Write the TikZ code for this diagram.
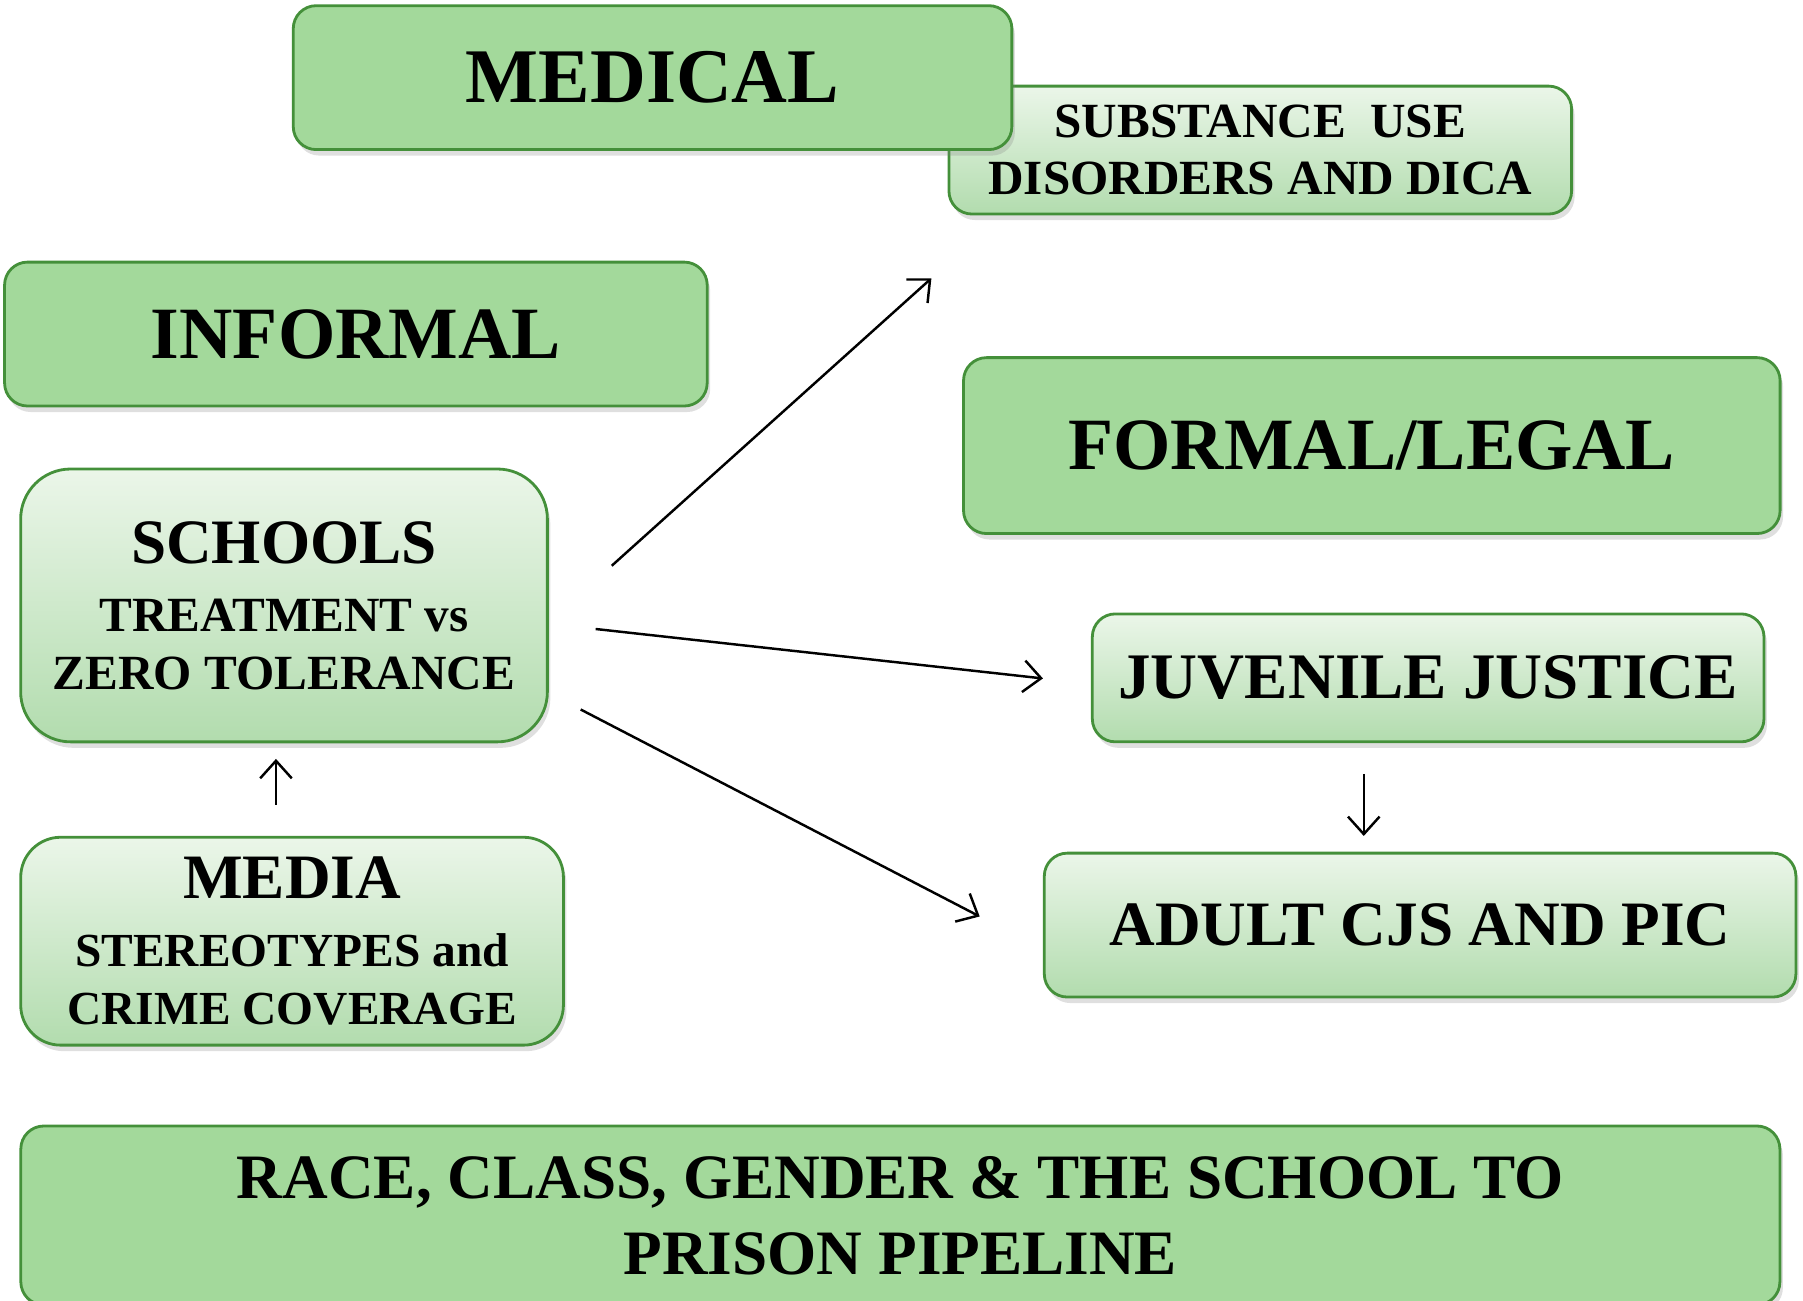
\documentclass[tikz,border=0pt]{standalone}
\usepackage{fontspec}
\setmainfont{Liberation Serif}
\usetikzlibrary{shadows,arrows.meta}
\definecolor{boxgreen}{HTML}{A3D99B}
\definecolor{edgegreen}{HTML}{44903A}
\definecolor{toplight}{HTML}{EBF6E9}
\definecolor{botgreen}{HTML}{B2DCAE}

\tikzset{
  solidbox/.style={draw=edgegreen, line width=0.8pt, fill=boxgreen,
    rounded corners=0.23cm, align=center,
    drop shadow={opacity=0.25, shadow xshift=0.03cm, shadow yshift=-0.06cm}},
  fadebox/.style={draw=edgegreen, line width=0.8pt, top color=toplight,
    bottom color=botgreen, rounded corners=0.23cm, align=center,
    drop shadow={opacity=0.25, shadow xshift=0.03cm, shadow yshift=-0.06cm}},
  link/.style={black, line width=0.7pt, -{Straight Barb[length=5pt,width=9pt]}},
}

\begin{document}
\begin{tikzpicture}[x=0.0115cm, y=-0.0115cm]
\useasboundingbox (0,0) rectangle (1568,1131);

\node[fadebox, font=\bfseries\fontsize{14}{16.4}\selectfont,
  minimum width=6.23cm, minimum height=1.28cm] (substance) at (1096,130.5)
  {SUBSTANCE~ USE\\ DISORDERS AND DICA};
\node[solidbox, font=\bfseries\fontsize{22}{24}\selectfont,
  minimum width=7.19cm, minimum height=1.44cm] (medical) at (567.5,67.5) {MEDICAL};
\node[solidbox, font=\bfseries\fontsize{21}{24}\selectfont,
  minimum width=7.03cm, minimum height=1.44cm] (informal) at (309.5,290.5) {INFORMAL};
\node[solidbox, font=\bfseries\fontsize{21}{24}\selectfont,
  minimum width=8.17cm, minimum height=1.76cm] (formal) at (1193,387.5) {FORMAL/LEGAL};
\node[fadebox, rounded corners=0.5cm, font=\bfseries\fontsize{14}{16.4}\selectfont,
  minimum width=5.27cm, minimum height=2.73cm] (schools) at (247,526.5)
  {{\fontsize{18}{18}\selectfont SCHOOLS}\\[3pt] TREATMENT vs\\ ZERO TOLERANCE};
\node[fadebox, font=\bfseries\fontsize{18.5}{20}\selectfont,
  minimum width=6.72cm, minimum height=1.28cm] (juvenile) at (1242,589.5) {JUVENILE JUSTICE};
\node[fadebox, font=\bfseries\fontsize{18}{20}\selectfont,
  minimum width=7.52cm, minimum height=1.44cm] (adult) at (1235,804.5) {ADULT CJS AND PIC};
\node[fadebox, rounded corners=0.4cm, font=\bfseries\fontsize{13.5}{16.4}\selectfont,
  minimum width=5.43cm, minimum height=2.08cm] (media) at (254,818.5)
  {{\fontsize{18}{18}\selectfont MEDIA}\\[3pt] STEREOTYPES and\\ CRIME COVERAGE};
\node[solidbox, font=\bfseries\fontsize{18}{21.6}\selectfont,
  minimum width=17.6cm, minimum height=1.79cm] (pipeline) at (783,1057)
  {RACE, CLASS, GENDER \& THE SCHOOL TO\\ PRISON PIPELINE};

% loose ends of the arrows
\coordinate (s1) at (532,492);  \coordinate (e1) at (810,242);
\coordinate (s2) at (518,547);  \coordinate (e2) at (907,590);
\coordinate (s3) at (505,617);  \coordinate (e3) at (852,797);
\coordinate (s4) at (240,700);  \coordinate (e4) at (240,660);
\coordinate (s5) at (1186,673); \coordinate (e5) at (1186,727);

\draw[link] (s1) -- (e1);
\draw[link] (s2) -- (e2);
\draw[link] (s3) -- (e3);
\draw[link] (s4) -- (e4);
\draw[link] (s5) -- (e5);
\end{tikzpicture}
\end{document}
